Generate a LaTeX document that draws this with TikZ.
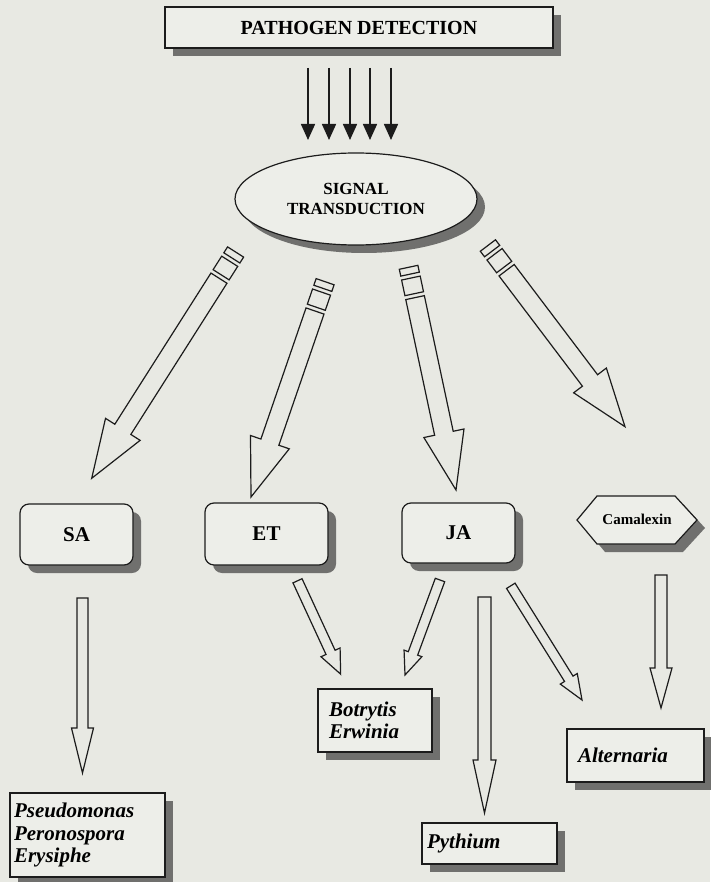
\documentclass[tikz,border=0pt]{standalone}
\usepackage{fontspec}
\setmainfont{Liberation Serif}
\usetikzlibrary{calc,shadows,arrows.meta,shapes.geometric}
\definecolor{paper}{RGB}{232,233,227}
\definecolor{boxfill}{RGB}{237,238,233}
\definecolor{shade}{RGB}{112,112,110}
\definecolor{ink}{RGB}{28,28,28}

\makeatletter
\newcommand\ArrowVec[2]{%
  \pgfpointdiff{\pgfpointanchor{#1}{center}}{\pgfpointanchor{#2}{center}}%
  \xdef\AVx{\strip@pt\pgf@x}\xdef\AVy{\strip@pt\pgf@y}}
\makeatother

% segmented hollow arrow: start coord, tip coord
\newcommand\SegArrow[2]{%
  \ArrowVec{#1}{#2}%
  \pgfmathsetmacro\AAng{atan2(\AVy,\AVx)}%
  \pgfmathsetmacro\ALen{veclen(\AVx,\AVy)}%
  \begin{scope}[shift={(#1)},rotate=\AAng]
    \draw[hollow] (0,-9.5) rectangle (7,9.5);
    \draw[hollow] (11,-9.5) rectangle (27,9.5);
    \draw[hollow] (31,-9.5) -- ({\ALen-58},-9.5) -- ({\ALen-58},-20.5) -- (\ALen,0)
      -- ({\ALen-58},20.5) -- ({\ALen-58},9.5) -- (31,9.5) -- cycle;
  \end{scope}}

% plain hollow arrow: start, tip, shaft half width, head half width, head length
\newcommand\BlockArrow[5]{%
  \ArrowVec{#1}{#2}%
  \pgfmathsetmacro\AAng{atan2(\AVy,\AVx)}%
  \pgfmathsetmacro\ALen{veclen(\AVx,\AVy)}%
  \begin{scope}[shift={(#1)},rotate=\AAng]
    \draw[hollow] (0,-#3) -- ({\ALen-#5},-#3) -- ({\ALen-#5},-#4) -- (\ALen,0)
      -- ({\ALen-#5},#4) -- ({\ALen-#5},#3) -- (0,#3) -- cycle;
  \end{scope}}

\begin{document}
\begin{tikzpicture}[x=1pt,y=-1pt,
  hollow/.style={draw=ink,line width=1.2pt,line join=miter},
  shadowed/.style={drop shadow={shadow xshift=8pt,shadow yshift=-8pt,fill=shade,opacity=1}},
  plainbox/.style={draw=ink,line width=1.2pt,fill=boxfill,shadowed,inner sep=0pt},
  roundbox/.style={plainbox,rounded corners=9pt,font=\fontsize{21}{24}\selectfont\bfseries},
  latinbox/.style={plainbox,align=left,font=\fontsize{21}{22.5}\selectfont\bfseries\itshape},
  thinarrow/.style={draw=ink,line width=1.6pt,-{Triangle[length=16pt,width=14pt]}}
]
\fill[paper] (0,0) rectangle (710,882);
\useasboundingbox (0,0) rectangle (710,882);

% top box
\node[plainbox,minimum width=388pt,minimum height=41pt,
  font=\fontsize{20}{22}\selectfont\bfseries] (pd) at (359,27.5) {PATHOGEN DETECTION};

% five thin arrows
\foreach \i/\x in {1/308,2/329,3/350,4/370,5/391}{
  \coordinate (p\i) at (\x,68);
  \coordinate (q\i) at (\x,140);
  \draw[thinarrow] (p\i) -- (q\i);
}

% ellipse
\node[ellipse,plainbox,minimum width=242pt,minimum height=92pt,align=center,
  font=\fontsize{17}{20}\selectfont\bfseries] (st) at (356,199) {SIGNAL\\TRANSDUCTION};

% second level
\node[roundbox,minimum width=113pt,minimum height=61pt] (sa) at (76.5,534.5) {SA};
\node[roundbox,minimum width=123pt,minimum height=62pt] (et) at (266.5,534) {ET};
\node[roundbox,minimum width=113pt,minimum height=60pt] (ja) at (458.5,533) {JA};

\coordinate (h1) at (577,520); \coordinate (h2) at (597,496); \coordinate (h3) at (675,496);
\coordinate (h4) at (697,520); \coordinate (h5) at (675,544); \coordinate (h6) at (597,544);
\draw[draw=ink,line width=1.2pt,fill=boxfill,shadowed] (h1) -- (h2) -- (h3) -- (h4) -- (h5) -- (h6) -- cycle;
\node[font=\fontsize{15}{18}\selectfont\bfseries] (cam) at (637,519) {Camalexin};

% big segmented arrows
\coordinate (a1s) at (235.6,252);   \coordinate (a1t) at (91.7,478.3);
\coordinate (a2s) at (325.1,281.7); \coordinate (a2t) at (251,497);
\coordinate (a3s) at (408.6,267.3); \coordinate (a3t) at (456,490);
\coordinate (a4s) at (487.9,245.5); \coordinate (a4t) at (625,426.7);
\SegArrow{a1s}{a1t}
\SegArrow{a2s}{a2t}
\SegArrow{a3s}{a3t}
\SegArrow{a4s}{a4t}

% bottom boxes
\node[latinbox,minimum width=155pt,minimum height=84pt,text width=147pt] (pse) at (87.5,835)
  {Pseudomonas\\Peronospora\\Erysiphe};
\node[latinbox,minimum width=114pt,minimum height=63pt,text width=92pt] (bot) at (375,720.5)
  {Botrytis\\Erwinia};
\node[latinbox,minimum width=135pt,minimum height=41pt,text width=125pt] (pyt) at (489.5,843.5)
  {Pythium};
\node[latinbox,minimum width=137pt,minimum height=53pt,text width=115pt] (alt) at (635.5,755.5)
  {Alternaria};

% small arrows
\coordinate (b1s) at (82.5,598);    \coordinate (b1t) at (82.5,773);
\coordinate (b2s) at (297.5,580.8); \coordinate (b2t) at (340.7,674.3);
\coordinate (b3s) at (440,580);     \coordinate (b3t) at (405,675);
\coordinate (b4s) at (484.5,597);   \coordinate (b4t) at (484.5,813);
\coordinate (b5s) at (510.8,585.8); \coordinate (b5t) at (582,700);
\coordinate (b6s) at (661,575);     \coordinate (b6t) at (661,708);
\BlockArrow{b1s}{b1t}{5.5}{11}{45}
\BlockArrow{b2s}{b2t}{5}{10.5}{24}
\BlockArrow{b3s}{b3t}{5}{9.5}{23}
\BlockArrow{b4s}{b4t}{6.5}{11.5}{53}
\BlockArrow{b5s}{b5t}{5}{10}{25}
\BlockArrow{b6s}{b6t}{6}{11}{40}
\end{tikzpicture}
\end{document}
